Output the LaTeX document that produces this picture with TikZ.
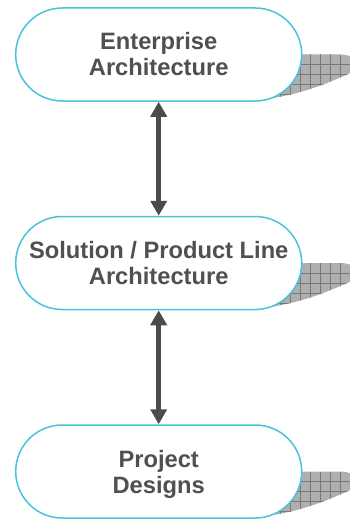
\documentclass[tikz,border=0pt]{standalone}
\usepackage{fontspec}
\setmainfont{Liberation Sans}
\usetikzlibrary{arrows.meta}
\definecolor{bordercyan}{RGB}{72,196,218}
\definecolor{txtgray}{RGB}{80,80,80}
\definecolor{arrgray}{RGB}{75,75,75}
\definecolor{shadowfill}{RGB}{175,175,175}
\definecolor{shadowgrid}{RGB}{120,120,120}
\tikzset{
  stage/.style={draw=bordercyan, line width=1.5pt, fill=white,
    rounded corners=46.5pt, minimum width=286pt, minimum height=93pt,
    align=center, text=txtgray, inner sep=0pt,
    font=\fontsize{23.7}{26}\selectfont\bfseries},
  linkarrow/.style={draw=arrgray, line width=5.5pt,
    {Triangle[width=16pt,length=15pt]}-{Triangle[width=16pt,length=15pt]}},
  shadowline/.style={draw=shadowgrid, line width=0.4pt}
}
\newcommand\myshadow[1]{%
  \begin{scope}
    \clip (250,#1) -- (340,#1) .. controls (356,#1) and (362,{#1+10}) .. (354,{#1+17})
      .. controls (325,{#1+30}) and (295,{#1+43}) .. (250,{#1+46}) -- cycle;
    \fill[shadowfill] (245,{#1-2}) rectangle (360,{#1+50});
    \foreach \gx in {260,270,...,350} {\draw[shadowline] (\gx,#1) -- (\gx,{#1+50});}
    \foreach \gy in {10,20,30,40} {\draw[shadowline] (250,{#1+\gy}) -- (360,{#1+\gy});}
  \end{scope}}
\begin{document}
\begin{tikzpicture}[x=1pt,y=-1pt]
\useasboundingbox (0,0) rectangle (350,519);
\clip (0,0) rectangle (350,519);
\myshadow{54.5}
\myshadow{263}
\myshadow{471.5}
\node[stage] (ea) at (158.7,54.5) {Enterprise\\Architecture};
\node[stage] (sa) at (158.7,263) {Solution / Product Line\\Architecture};
\node[stage, text depth=0pt] (pd) at (158.7,471.5) {Project\\Designs};
\draw[linkarrow] (ea.south) -- (sa.north);
\draw[linkarrow] (sa.south) -- (pd.north);
\end{tikzpicture}
\end{document}
